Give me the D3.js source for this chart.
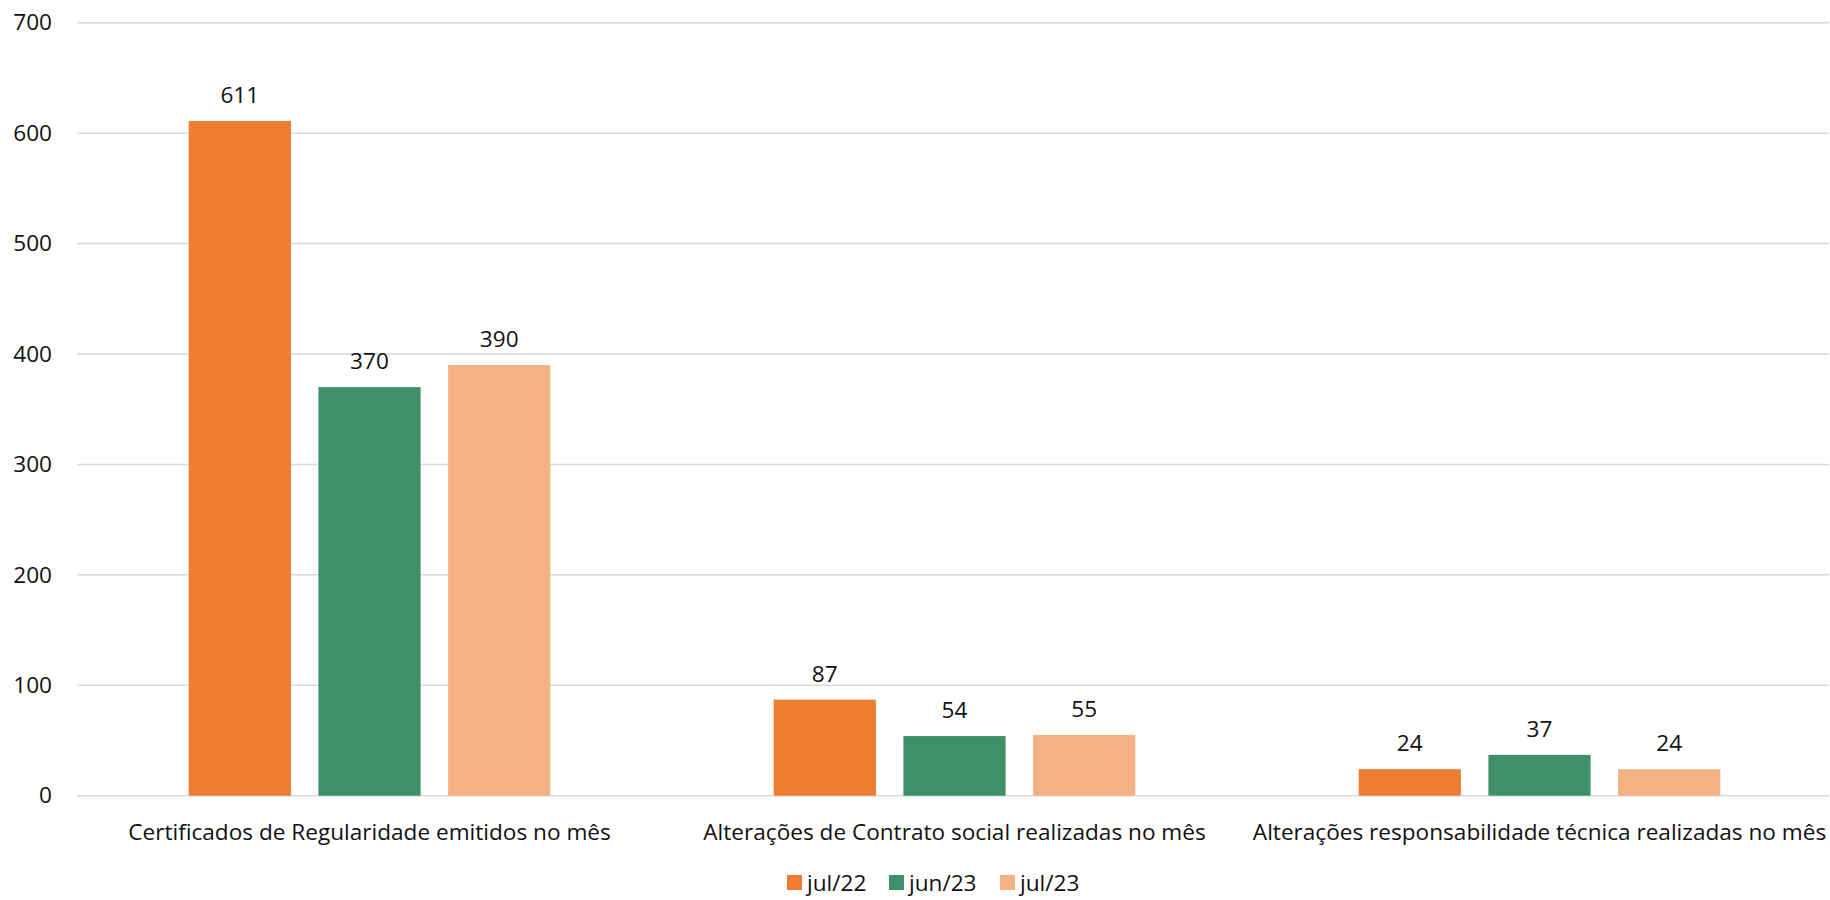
<!DOCTYPE html>
<html>
<head>
<meta charset="utf-8">
<script src="https://cdn.jsdelivr.net/npm/d3@7"></script>
<style>
  html, body { margin: 0; padding: 0; background: #fff; }
  svg { display: block; }
  text { font-family: "Open Sans", "Noto Sans", sans-serif; fill: #111; }
</style>
</head>
<body>
<svg id="chart" width="1830" height="900"></svg>
<script>
const categories = [
  "Certificados de Regularidade emitidos no mês",
  "Alterações de Contrato social realizadas no mês",
  "Alterações responsabilidade técnica realizadas no mês"
];
const seriesNames = ["jul/22", "jun/23", "jul/23"];
const jul22 = [611, 87, 24];
const jun23 = [370, 54, 37];
const jul23 = [390, 55, 24];
const yTicks = [0, 100, 200, 300, 400, 500, 600, 700];
const colors = ["#ED7D31", "#3F8F69", "#F4B183"];

const seriesValues = [jul22, jun23, jul23];
const W = 1830, H = 900;
const margin = { left: 77, right: -2, top: 22.7, bottom: 104.3 };
const svg = d3.select("#chart");
const fs = 22.6;
const ff = '"Open Sans", "Noto Sans", sans-serif';

const y = d3.scaleLinear().domain([0, 700]).range([H - margin.bottom, margin.top]);
const x0 = d3.scaleBand().domain(categories).range([margin.left, W - margin.right]).padding(0);
const x1 = d3.scaleBand().domain(seriesNames).range([0, x0.bandwidth()])
  .paddingInner(0.212).paddingOuter(0.861);

// gridlines
svg.append("g").selectAll("line").data(yTicks).join("line")
  .attr("x1", margin.left).attr("x2", W - 1)
  .attr("y1", d => y(d)).attr("y2", d => y(d))
  .attr("stroke", "#d9d9d9").attr("stroke-width", 1.5);

// y axis labels
const yAxis = d3.axisLeft(y).tickValues(yTicks).tickSize(0).tickPadding(0);
const gy = svg.append("g").attr("transform", `translate(52,0)`).call(yAxis);
gy.select(".domain").remove();
gy.selectAll("text").style("font-size", fs + "px").style("font-family", ff).attr("fill", "#111");

// bars
const rows = [];
categories.forEach((c, i) => seriesNames.forEach((s, j) => rows.push({ c, s, j, v: seriesValues[j][i] })));

svg.append("g").selectAll("rect").data(rows).join("rect")
  .attr("x", d => x0(d.c) + x1(d.s))
  .attr("width", x1.bandwidth())
  .attr("y", d => y(d.v))
  .attr("height", d => y(0) - y(d.v))
  .attr("fill", d => colors[d.j]);

// value labels
svg.append("g").selectAll("text").data(rows).join("text")
  .attr("x", d => x0(d.c) + x1(d.s) + x1.bandwidth() / 2)
  .attr("y", d => y(d.v) - 18)
  .attr("text-anchor", "middle")
  .style("font-size", fs + "px")
  .text(d => d.v);

// x axis labels
const xAxis = d3.axisBottom(x0).tickSize(0).tickPadding(0);
const gx = svg.append("g").attr("transform", `translate(0,${y(0)})`).call(xAxis);
gx.select(".domain").remove();
gx.selectAll("text").attr("y", 44).attr("dy", 0)
  .style("font-size", fs + "px").style("font-family", ff).attr("fill", "#111");

// legend
const legendX = [787, 889, 1000];
const lg = svg.append("g").selectAll("g").data(seriesNames).join("g")
  .attr("transform", (d, i) => `translate(${legendX[i]},875)`);
lg.append("rect").attr("width", 15).attr("height", 15).attr("fill", (d, i) => colors[i]);
lg.append("text").attr("x", 20).attr("y", 15.5).style("font-size", fs + "px").text(d => d);
</script>
</body>
</html>
